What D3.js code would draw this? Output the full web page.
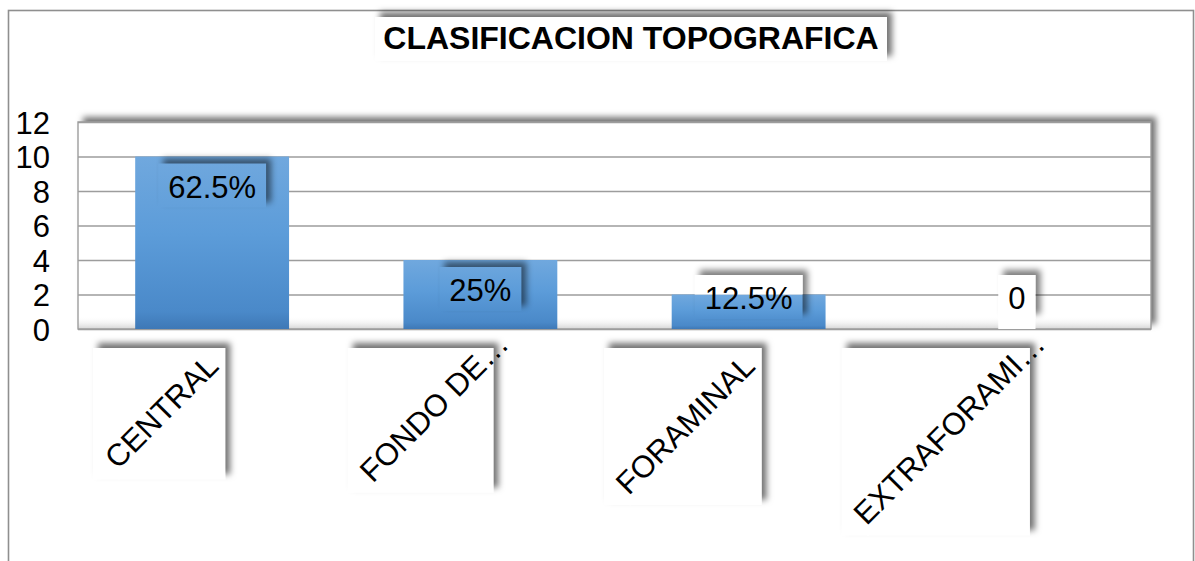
<!DOCTYPE html>
<html><head><meta charset="utf-8">
<script src="https://cdn.jsdelivr.net/npm/d3@7"></script>
<style>html,body{margin:0;padding:0;background:#fff;} svg{display:block;font-family:"Liberation Sans",Arial,sans-serif;}</style>
</head><body>
<svg id="c" width="1195" height="561"></svg>
<script>
const title = "CLASIFICACION TOPOGRAFICA";
const categories = ["CENTRAL", "FONDO DE…", "FORAMINAL", "EXTRAFORAMI…"];
const values = [10, 4, 2, 0];
const dataLabels = ["62.5%", "25%", "12.5%", "0"];
const yTicks = [0, 2, 4, 6, 8, 10, 12];

const svg = d3.select("#c");
const W = 1195, H = 561;
const plot = {l: 78, t: 122, r: 1151, b: 329};
const FS = 31;

const defs = svg.append("defs");
const sh = defs.append("filter").attr("id", "sh").attr("x", "-10%").attr("y", "-30%").attr("width", "130%").attr("height", "160%");
sh.append("feDropShadow").attr("dx", 5).attr("dy", -5).attr("stdDeviation", 3).attr("flood-color", "#000").attr("flood-opacity", 0.55);
const blur = defs.append("filter").attr("id", "blur").attr("x", "-50%").attr("y", "-50%").attr("width", "200%").attr("height", "200%");
blur.append("feGaussianBlur").attr("stdDeviation", 3);

const bg = defs.append("linearGradient").attr("id", "barG").attr("x1", 0).attr("y1", 0).attr("x2", 0).attr("y2", 1);
[["0%", "#70a8de"], ["45%", "#5c9cd9"], ["90%", "#4a89c9"], ["100%", "#3e78b6"]].forEach(s => bg.append("stop").attr("offset", s[0]).attr("stop-color", s[1]));
const fg = defs.append("linearGradient").attr("id", "floorG").attr("x1", 0).attr("y1", 0).attr("x2", 0).attr("y2", 1);
fg.append("stop").attr("offset", "0%").attr("stop-color", "#fff").attr("stop-opacity", 0);
fg.append("stop").attr("offset", "100%").attr("stop-color", "#d4d4d4");

// outer border
svg.append("rect").attr("x", 8.5).attr("y", 10.5).attr("width", 1185).attr("height", 580)
  .attr("fill", "#fff").attr("stroke", "#8f8f8f").attr("stroke-width", 1.6);

// title
svg.append("rect").attr("x", 375).attr("y", 17).attr("width", 512).attr("height", 44).attr("fill", "#fff").attr("filter", "url(#sh)");
svg.append("text").attr("x", 631).attr("y", 49).attr("text-anchor", "middle").attr("font-weight", "bold")
  .attr("font-size", 32).attr("fill", "#000").text(title);

const x = d3.scaleBand().domain(categories).range([plot.l, plot.r]).paddingInner(0.4264).paddingOuter(0.2132);
const y = d3.scaleLinear().domain([0, 12]).range([plot.b, plot.t]);

// plot area
svg.append("rect").attr("x", plot.l).attr("y", plot.t).attr("width", plot.r - plot.l).attr("height", plot.b - plot.t)
  .attr("fill", "#fff").attr("filter", "url(#sh)");
svg.append("rect").attr("x", plot.l).attr("y", plot.b - 13).attr("width", plot.r - plot.l).attr("height", 13).attr("fill", "url(#floorG)");

// gridlines
const grid = svg.append("g").attr("transform", `translate(${plot.l},0)`)
  .call(d3.axisLeft(y).tickValues(yTicks).tickSize(-(plot.r - plot.l)).tickFormat(""));
grid.select(".domain").remove();
grid.selectAll("line").attr("stroke", "#9d9d9d").attr("stroke-width", 1.4);
svg.append("rect").attr("x", plot.l).attr("y", plot.t).attr("width", plot.r - plot.l).attr("height", plot.b - plot.t)
  .attr("fill", "none").attr("stroke", "#9d9d9d").attr("stroke-width", 1.4);

// y labels
const ya = svg.append("g").attr("transform", `translate(50,0)`)
  .call(d3.axisLeft(y).tickValues(yTicks).tickSize(0).tickPadding(0));
ya.select(".domain").remove();
ya.selectAll("text").attr("font-size", FS).attr("font-family", "'Liberation Sans',Arial,sans-serif").attr("fill", "#000").attr("dy", "0.36em");

// bars
svg.append("g").selectAll("rect").data(values).join("rect")
  .attr("x", (d, i) => x(categories[i])).attr("width", x.bandwidth())
  .attr("y", d => y(d)).attr("height", d => y(0) - y(d)).attr("fill", "url(#barG)");

// data labels
const lg = svg.append("g");
dataLabels.forEach((lab, i) => {
  const cx = x(categories[i]) + x.bandwidth() / 2;
  const t = lg.append("text").attr("x", cx).attr("text-anchor", "middle").attr("font-size", FS).attr("fill", "#000").text(lab);
  const tw = t.node().getComputedTextLength();
  const bw = tw + 20, bh = 44;
  const top = Math.min(y(values[i]) + 7, 275);
  const bx = cx - bw / 2;
  const m = defs.append("mask").attr("id", "lm" + i).attr("maskUnits", "userSpaceOnUse")
    .attr("x", 0).attr("y", 0).attr("width", W).attr("height", H);
  m.append("rect").attr("x", 0).attr("y", 0).attr("width", W).attr("height", H).attr("fill", "#fff");
  m.append("rect").attr("x", bx).attr("y", top).attr("width", bw).attr("height", bh).attr("fill", "#000");
  lg.insert("rect", "text").attr("x", bx + 5).attr("y", top - 5).attr("width", bw).attr("height", bh)
    .attr("fill", "#000").attr("opacity", 0.5).attr("filter", "url(#blur)").attr("mask", `url(#lm${i})`);
  if (values[i] < 3) {
    // white part of the box above the bar
    const by = y(values[i]);
    const hh = Math.max(0, by - top);
    lg.insert("rect", "text").attr("x", bx).attr("y", top).attr("width", bw).attr("height", hh).attr("fill", "#fff");
  }
  t.attr("y", top + 34);
});

// category labels
const cg = svg.append("g");
const c = Math.SQRT1_2, capH = 0.716 * FS;
categories.forEach((cat, i) => {
  const cx = x(cat) + x.bandwidth() / 2;
  const hasE = cat.endsWith("…");
  const main = hasE ? cat.slice(0, -1) : cat;
  const g = cg.append("g");
  const tmp = g.append("text").attr("font-size", FS).text(main);
  const L = tmp.node().getComputedTextLength();
  tmp.remove();
  const ex = cx + 8, ey = 368;
  const sx = ex - c * L, sy = ey + c * L;
  const x0 = sx - c * capH - 9, x1 = ex + 5, y0 = 348, y1 = sy + 9;
  g.append("rect").attr("x", x0).attr("y", y0).attr("width", x1 - x0).attr("height", y1 - y0).attr("fill", "#fff").attr("filter", "url(#sh)");
  const tg = g.append("g").attr("transform", `translate(${sx},${sy}) rotate(-45)`);
  tg.append("rect").attr("x", -6).attr("y", -capH - 7).attr("width", L + 4).attr("height", capH + 15).attr("fill", "#fff");
  const t = tg.append("text").attr("x", 0).attr("y", 0).attr("font-size", FS).attr("fill", "#000");
  t.append("tspan").text(main);
  if (hasE) t.append("tspan").text("…");
});
</script>
</body></html>
